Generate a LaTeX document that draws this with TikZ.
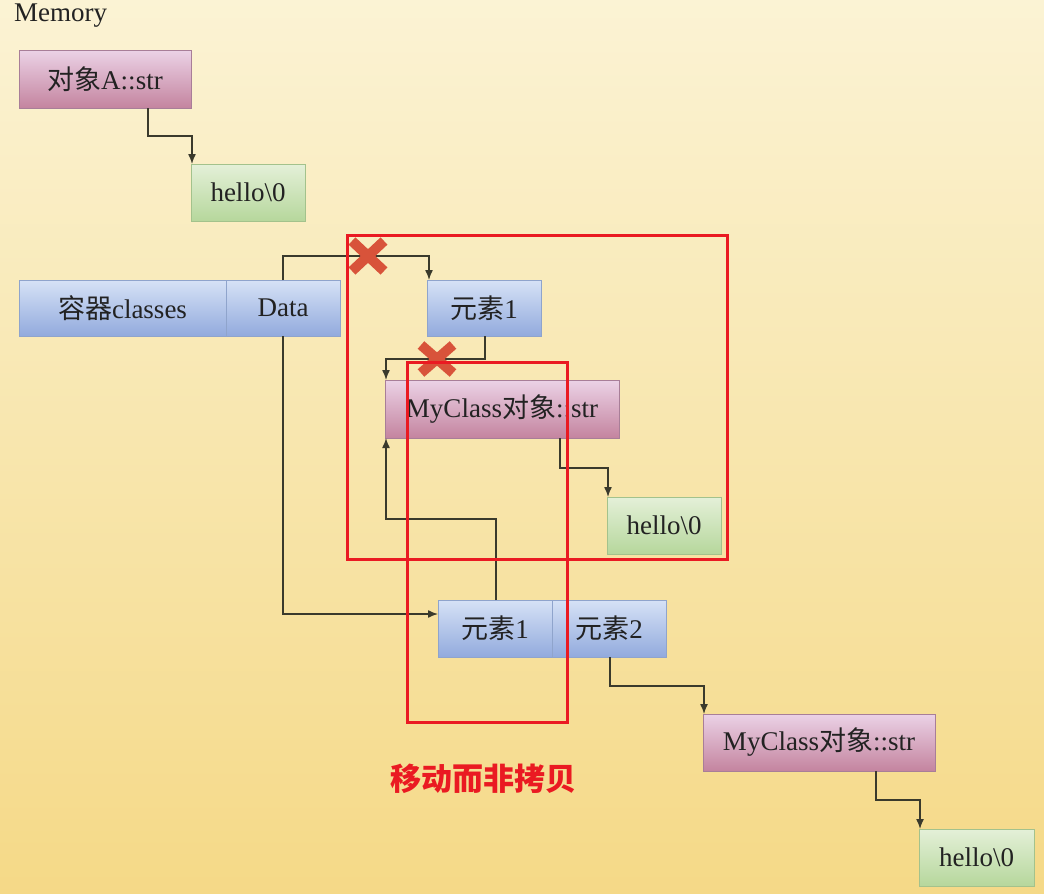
\documentclass[tikz,border=0pt]{standalone}
\usepackage{fontspec}
\setmainfont{Liberation Serif}
\newfontfamily\cjk{Noto Sans CJK SC}
\usetikzlibrary{arrows.meta,calc}
\newcommand{\zh}[1]{{\cjk #1}}
\definecolor{bgtop}{HTML}{FBF3D4}
\definecolor{bgbot}{HTML}{F5D987}
\definecolor{bluetop}{HTML}{D6E2F6}
\definecolor{bluebot}{HTML}{92AADD}
\definecolor{blueline}{HTML}{8FA4CC}
\definecolor{purtop}{HTML}{EBD2E6}
\definecolor{purbot}{HTML}{C4849F}
\definecolor{purline}{HTML}{A87E98}
\definecolor{grntop}{HTML}{E4F0D8}
\definecolor{grnbot}{HTML}{B6D79C}
\definecolor{grnline}{HTML}{A3C28C}
\definecolor{conncol}{HTML}{3A3A2C}
\definecolor{hlred}{HTML}{EA1A22}
\definecolor{xred}{HTML}{D8533A}
\definecolor{txt}{HTML}{222222}
\tikzset{
  box/.style={anchor=north west, inner sep=0pt, outer sep=0pt, text=txt,
    font=\fontsize{27}{30}\selectfont, line width=0.8pt},
  bluebox/.style={box, draw=blueline, top color=bluetop, bottom color=bluebot},
  purbox/.style={box, draw=purline, top color=purtop, bottom color=purbot},
  grnbox/.style={box, draw=grnline, top color=grntop, bottom color=grnbot},
  conn/.style={draw=conncol, line width=1.4pt, -{Latex[length=10pt,width=8pt]}},
  hlbox/.style={draw=hlred, line width=3pt},
  xmark/.style={draw=xred, line width=10pt},
}
\begin{document}
\begin{tikzpicture}[x=1pt,y=-1pt]
\shade[top color=bgtop, bottom color=bgbot] (0,0) rectangle (1044,894);
\useasboundingbox (0,0) rectangle (1044,894);

\node[anchor=west, text=txt, font=\fontsize{27}{30}\selectfont, inner sep=0pt] (mem) at (14,16) {Memory};

\node[purbox, minimum width=172pt, minimum height=58pt] (objA) at (19,50) {\zh{对象}A::str};
\node[grnbox, minimum width=114pt, minimum height=57pt] (hello1) at (191,164) {hello\textbackslash0};

\node[bluebox, minimum width=207pt, minimum height=56pt] (cont) at (19,280) {\zh{容器}classes};
\node[bluebox, minimum width=114pt, minimum height=56pt] (data) at (226,280) {Data};

\node[bluebox, minimum width=114pt, minimum height=56pt] (elA) at (427,280) {\zh{元素}1};
\node[purbox, minimum width=234pt, minimum height=58pt] (mycA) at (385,380) {MyClass\zh{对象}::str};
\node[grnbox, minimum width=114pt, minimum height=57pt] (hello2) at (607,497) {hello\textbackslash0};

\node[bluebox, minimum width=114pt, minimum height=57pt] (elB) at (438,600) {\zh{元素}1};
\node[bluebox, minimum width=114pt, minimum height=57pt] (elC) at (552,600) {\zh{元素}2};
\node[purbox, minimum width=232pt, minimum height=57pt] (mycB) at (703,714) {MyClass\zh{对象}::str};
\node[grnbox, minimum width=115pt, minimum height=57pt] (hello3) at (919,829) {hello\textbackslash0};

% connectors
\draw[conn] ($(objA.south west)+(129,0)$) -- ++(0,28) -| ($(hello1.north west)+(1,0)$);
\draw[conn] (data.north) -- ++(0,-24) -| ($(elA.north west)+(2,0)$);
\draw[conn] (data.south) |- ($(elB.north west)+(0,14)$);
\draw[conn] ($(elA.south west)+(58,0)$) -- ++(0,23) -| ($(mycA.north west)+(1,0)$);
\draw[conn] ($(mycA.south west)+(175,0)$) -- ++(0,30) -| ($(hello2.north west)+(1,0)$);
\draw[conn] ($(elB.north west)+(58,0)$) -- ++(0,-81) -| ($(mycA.south west)+(1,0)$);
\draw[conn] ($(elC.south west)+(58,0)$) -- ++(0,29) -| ($(mycB.north west)+(1,0)$);
\draw[conn] ($(mycB.south west)+(173,0)$) -- ++(0,29) -| ($(hello3.north west)+(1,0)$);

% X marks
\coordinate (x1) at (368,256);
\coordinate (x2) at (437,359);
\draw[xmark] ($(x1)+(-16,-15)$) -- ($(x1)+(16,15)$) ($(x1)+(16,-15)$) -- ($(x1)+(-16,15)$);
\draw[xmark] ($(x2)+(-16,-14)$) -- ($(x2)+(16,14)$) ($(x2)+(16,-14)$) -- ($(x2)+(-16,14)$);

% highlight boxes
\draw[hlbox] (347,235) rectangle (727,559);
\draw[hlbox] (407,362) rectangle (567,722);

\node[text=hlred, font=\cjk\bfseries\fontsize{31}{34}\selectfont, inner sep=0pt] (cap) at (483,779) {移动而非拷贝};
\end{tikzpicture}
\end{document}
